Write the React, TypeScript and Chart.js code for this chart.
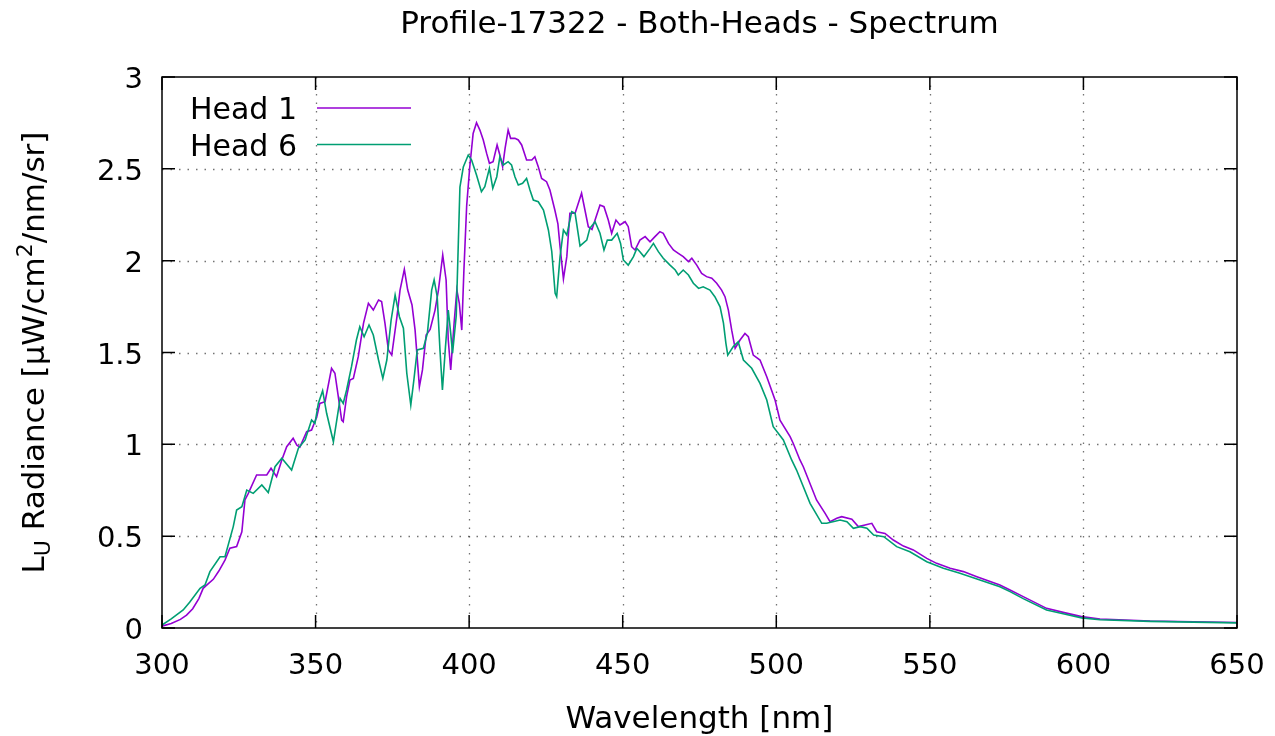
import React, { useEffect, useRef } from "react";
import { Chart, registerables } from "chart.js";

Chart.register(...registerables);

// Spectral radiance, Head 1
const head1Wavelength = [
  300, 303, 306, 308, 310, 312, 313.4, 315, 316.7, 318.5, 320.5, 322.1, 324.3, 326, 327, 328.1,
  330.8, 334.1, 335.5, 337.3, 339, 340.6, 342.7, 343.9, 344.9, 347.1, 348.7, 350.4, 351.4, 353.1,
  355.2, 356.3, 357.4, 358.5, 359, 360.1, 361.2, 362.3, 363.9, 365.6, 367.2, 368.8, 370.5, 371.5,
  372.6, 373.7, 374.8, 376.5, 377.5, 378.9, 380, 381.4, 382.4, 383.8, 384.8, 386, 387.3, 388.9,
  390, 391.4, 392.5, 393.2, 394, 395.1, 396, 396.8, 397.6, 398.3, 399.2, 400.2, 401.3, 402.4,
  403.5, 404.6, 405.7, 406.6, 407.8, 409.1, 410, 410.9, 411.7, 412.7, 413.5, 414.9, 416, 417.1,
  418.7, 420.4, 421.4, 422.5, 423.6, 425.2, 426.3, 427.9, 428.9, 429.6, 430.7, 431.8, 432.8, 434.5,
  436.6, 438.8, 440, 441, 442.6, 443.9, 445.3, 446.4, 447.8, 449.1, 450.8, 451.8, 452.9, 454,
  455.6, 457.3, 458.9, 460.5, 462.1, 463.2, 464.9, 466.5, 468.1, 469.7, 471.4, 472.5, 474.1, 475.7,
  477.3, 479, 480.6, 482.2, 483.3, 484.4, 485.5, 486.6, 488.2, 489.8, 490.9, 492.5, 494.7, 496.9,
  499.6, 501.2, 504.5, 505.5, 507.7, 508.8, 513.1, 515.9, 517.5, 519.7, 521.3, 524.6, 526.7, 528.9,
  531.1, 532.7, 535.4, 538.1, 541.4, 544.6, 549, 552.2, 556.6, 560.9, 565.3, 572.8, 576.1, 580.4,
  588, 593.4, 599.4, 605.4, 621.7, 650,
];
const head1Radiance = [
  0.01, 0.025, 0.047, 0.07, 0.105, 0.16, 0.216, 0.24, 0.265, 0.31, 0.37, 0.434, 0.443, 0.524, 0.697, 0.733,
  0.833, 0.833, 0.87, 0.824, 0.915, 0.987, 1.033, 0.996, 0.985, 1.069, 1.078, 1.15, 1.223, 1.232,
  1.414, 1.387, 1.26, 1.132, 1.123, 1.26, 1.35, 1.359, 1.477, 1.659, 1.768, 1.731, 1.786, 1.777,
  1.659, 1.514, 1.486, 1.695, 1.84, 1.953, 1.84, 1.759, 1.622, 1.314, 1.405, 1.595, 1.626, 1.731,
  1.84, 2.031, 1.895, 1.568, 1.405, 1.659, 1.84, 1.768, 1.622, 1.95, 2.3, 2.51, 2.693, 2.751,
  2.711, 2.657, 2.584, 2.53, 2.539, 2.63, 2.575, 2.512, 2.611, 2.711, 2.666, 2.666, 2.657, 2.63,
  2.548, 2.548, 2.566, 2.512, 2.448, 2.43, 2.385, 2.276, 2.2, 2.076, 1.9, 2.022, 2.258, 2.258,
  2.367, 2.185, 2.17, 2.221, 2.303, 2.294, 2.221, 2.149, 2.221, 2.194, 2.212, 2.185, 2.076, 2.058,
  2.112, 2.131, 2.103, 2.131, 2.158, 2.149, 2.094, 2.058, 2.04, 2.022, 1.995, 2.013, 1.976, 1.931,
  1.913, 1.904, 1.877, 1.84, 1.804, 1.731, 1.62, 1.523, 1.568, 1.604, 1.586, 1.486, 1.459, 1.368,
  1.241, 1.132, 1.042, 1.006, 0.915, 0.878, 0.697, 0.624, 0.579, 0.597, 0.606, 0.592, 0.552, 0.561,
  0.57, 0.524, 0.515, 0.479, 0.446, 0.425, 0.379, 0.352, 0.325, 0.307, 0.279, 0.234, 0.207, 0.171,
  0.107, 0.085, 0.062, 0.049, 0.038, 0.03,
];

// Spectral radiance, Head 6
const head6Wavelength = [
  300, 303, 306.9, 309, 312.4, 314, 315.6, 318.9, 320.5, 323.2, 324.3, 326, 327.6, 329.7, 332.5, 334.6,
  336.8, 339, 342.2, 344.4, 346.6, 348.7, 349.8, 350.9, 352.3, 353.6, 355.8, 356.9, 358, 359, 360.1,
  361.7, 363.3, 364.4, 365.8, 367.4, 368.8, 370.5, 371.9, 373.2, 374.6, 375.9, 377.3, 378.6, 379.7,
  381, 382, 383.1, 385.1, 386.4, 387.8, 388.6, 389.6, 390.5, 391.3, 392.3, 393.2, 394, 394.6, 395.8,
  396.5, 397, 398.1, 399.7, 400.8, 402.4, 404, 405.1, 406.6, 407.7, 409, 410, 411.1, 412.7, 413.8,
  414.9, 416, 417.4, 418.7, 419.8, 420.9, 422.5, 424.2, 425.8, 426.9, 428, 428.5, 429.6, 430.7, 431.8,
  433.4, 434.5, 436.1, 438.3, 439.3, 441, 442.6, 443.9, 445, 446.4, 448.2, 449.3, 450.2, 451.8, 453.5,
  454.6, 455.6, 456.9, 458.9, 460, 461.6, 463.2, 465.4, 467.1, 468.1, 469.7, 471.4, 473, 474.7, 476.2,
  478.4, 480, 481.7, 482.8, 483.6, 484.2, 486, 487.6, 489.3, 492, 494.7, 496.9, 499, 502.3, 505,
  506.6, 511, 514.8, 516.4, 520.8, 523, 525.1, 527.3, 529.5, 531.7, 535, 539.2, 543.5, 549, 554.4,
  559.8, 566.3, 572.8, 576.1, 580.4, 588, 593.4, 599.4, 605.4, 621.7, 650,
];
const head6Radiance = [
  0.016, 0.05, 0.098, 0.14, 0.216, 0.234, 0.307, 0.388, 0.388, 0.552, 0.642, 0.66, 0.751, 0.733, 0.779, 0.737,
  0.878, 0.924, 0.86, 0.978, 1.024, 1.132, 1.114, 1.223, 1.292, 1.169, 1.014, 1.132, 1.25, 1.223, 1.296,
  1.423, 1.568, 1.64, 1.586, 1.65, 1.595, 1.459, 1.359, 1.459, 1.677, 1.813, 1.695, 1.632, 1.387,
  1.214, 1.35, 1.514, 1.523, 1.604, 1.84, 1.895, 1.804, 1.514, 1.296, 1.532, 1.731, 1.604, 1.496, 1.7,
  2.11, 2.4, 2.51, 2.575, 2.548, 2.466, 2.376, 2.403, 2.503, 2.394, 2.457, 2.566, 2.521, 2.539, 2.521,
  2.457, 2.412, 2.421, 2.448, 2.385, 2.33, 2.321, 2.275, 2.167, 2.05, 1.822, 1.804, 2.022, 2.167, 2.14,
  2.267, 2.258, 2.08, 2.112, 2.176, 2.212, 2.149, 2.058, 2.112, 2.112, 2.149, 2.094, 2.004, 1.976, 2.022,
  2.067, 2.049, 2.022, 2.067, 2.094, 2.049, 2.013, 1.976, 1.949, 1.922, 1.949, 1.922, 1.877, 1.849, 1.858,
  1.84, 1.804, 1.749, 1.66, 1.55, 1.486, 1.532, 1.559, 1.459, 1.414, 1.332, 1.241, 1.096, 1.024, 0.915,
  0.86, 0.679, 0.57, 0.57, 0.588, 0.579, 0.543, 0.552, 0.543, 0.506, 0.497, 0.443, 0.415, 0.361, 0.325,
  0.298, 0.261, 0.225, 0.198, 0.16, 0.098, 0.078, 0.055, 0.045, 0.036, 0.028,
];

const seriesNames = ["Head 1", "Head 6"];
const seriesColors = ["#9400d3", "#009e73"];

const xTicks = [300, 350, 400, 450, 500, 550, 600, 650];
const yTicks = [0, 0.5, 1, 1.5, 2, 2.5, 3];

const chartTitle = "Profile-17322 - Both-Heads - Spectrum";
const xTitle = "Wavelength [nm]";

const FONT = '"DejaVu Sans", "Liberation Sans", sans-serif';

const zip = (xs: number[], ys: number[]) => xs.map((x, i) => ({ x, y: ys[i] }));

const gnuplotFrame = {
  id: "gnuplotFrame",
  beforeDatasetsDraw(chart: any) {
    const { ctx, chartArea: a, scales } = chart;
    const xs = scales.x;
    const ys = scales.y;
    ctx.save();
    ctx.strokeStyle = "rgba(0,0,0,0.55)";
    ctx.lineWidth = 1.3;
    ctx.setLineDash([1.5, 7]);
    for (const v of xTicks.slice(1, -1)) {
      const px = Math.round(xs.getPixelForValue(v)) + 0.5;
      ctx.beginPath();
      ctx.moveTo(px, a.top);
      ctx.lineTo(px, a.bottom);
      ctx.stroke();
    }
    for (const v of yTicks.slice(1, -1)) {
      const py = Math.round(ys.getPixelForValue(v)) + 0.5;
      ctx.beginPath();
      ctx.moveTo(a.left, py);
      ctx.lineTo(a.right, py);
      ctx.stroke();
    }
    ctx.restore();
  },
  afterDatasetsDraw(chart: any) {
    const { ctx, chartArea: a, scales } = chart;
    const xs = scales.x;
    const ys = scales.y;
    const tickLen = 13;
    ctx.save();
    ctx.setLineDash([]);
    ctx.strokeStyle = "#000";
    ctx.lineWidth = 1.5;
    ctx.strokeRect(a.left, a.top, a.right - a.left, a.bottom - a.top);

    // inward major ticks, mirrored on the opposite side
    ctx.beginPath();
    for (const v of xTicks) {
      const px = xs.getPixelForValue(v);
      ctx.moveTo(px, a.bottom);
      ctx.lineTo(px, a.bottom - tickLen);
      ctx.moveTo(px, a.top);
      ctx.lineTo(px, a.top + tickLen);
    }
    for (const v of yTicks) {
      const py = ys.getPixelForValue(v);
      ctx.moveTo(a.left, py);
      ctx.lineTo(a.left + tickLen, py);
      ctx.moveTo(a.right, py);
      ctx.lineTo(a.right - tickLen, py);
    }
    ctx.stroke();

    // tick labels
    ctx.fillStyle = "#000";
    ctx.font = `29px ${FONT}`;
    ctx.textBaseline = "alphabetic";
    ctx.textAlign = "center";
    for (const v of xTicks) {
      ctx.fillText(String(v), xs.getPixelForValue(v), a.bottom + 46);
    }
    ctx.textAlign = "right";
    for (const v of yTicks) {
      ctx.fillText(String(v), a.left - 19, ys.getPixelForValue(v) + 11);
    }

    // title and x-axis title
    ctx.font = `31px ${FONT}`;
    ctx.textAlign = "center";
    const cx = (a.left + a.right) / 2;
    ctx.fillText(chartTitle, cx, 33);
    ctx.fillText(xTitle, cx, 728);

    // y-axis title with subscript and superscript
    const parts = [
      { t: "L", size: 31, dy: 0 },
      { t: "U", size: 22, dy: 6 },
      { t: " Radiance [\u03bcW/cm", size: 31, dy: 0 },
      { t: "2", size: 22, dy: -12 },
      { t: "/nm/sr]", size: 31, dy: 0 },
    ];
    let total = 0;
    const widths = parts.map((p) => {
      ctx.font = `${p.size}px ${FONT}`;
      const w = ctx.measureText(p.t).width;
      total += w;
      return w;
    });
    ctx.save();
    ctx.translate(44, (a.top + a.bottom) / 2);
    ctx.rotate(-Math.PI / 2);
    ctx.textAlign = "left";
    let pos = -total / 2;
    parts.forEach((p, i) => {
      ctx.font = `${p.size}px ${FONT}`;
      ctx.fillText(p.t, pos, p.dy);
      pos += widths[i];
    });
    ctx.restore();

    // key
    ctx.font = `30px ${FONT}`;
    ctx.textAlign = "right";
    const keyRows = [
      { y: 108, base: 119 },
      { y: 144.5, base: 156 },
    ];
    keyRows.forEach((row, i) => {
      ctx.fillStyle = "#000";
      ctx.fillText(seriesNames[i], 297, row.base);
      ctx.strokeStyle = seriesColors[i];
      ctx.lineWidth = 1.6;
      ctx.beginPath();
      ctx.moveTo(317, row.y);
      ctx.lineTo(411, row.y);
      ctx.stroke();
    });
    ctx.restore();
  },
};

export default function App() {
  const canvasRef = useRef<HTMLCanvasElement | null>(null);

  useEffect(() => {
    const canvas = canvasRef.current;
    if (!canvas) return;
    const chart = new Chart(canvas, {
      type: "line",
      data: {
        datasets: [
          {
            label: seriesNames[0],
            data: zip(head1Wavelength, head1Radiance),
            borderColor: seriesColors[0],
            borderWidth: 1.6,
            pointRadius: 0,
            tension: 0,
            fill: false,
            order: 1,
          },
          {
            label: seriesNames[1],
            data: zip(head6Wavelength, head6Radiance),
            borderColor: seriesColors[1],
            borderWidth: 1.6,
            pointRadius: 0,
            tension: 0,
            fill: false,
            order: 0,
          },
        ],
      },
      options: {
        responsive: false,
        animation: false,
        events: [],
        layout: { padding: { left: 162, top: 77, right: 38, bottom: 108 } },
        plugins: {
          legend: { display: false },
          title: { display: false },
          tooltip: { enabled: false },
        },
        scales: {
          x: {
            type: "linear",
            min: xTicks[0],
            max: xTicks[xTicks.length - 1],
            grid: { display: false },
            border: { display: false },
            ticks: { display: false },
            afterFit: (s: any) => {
              s.height = 0;
            },
          },
          y: {
            type: "linear",
            min: yTicks[0],
            max: yTicks[yTicks.length - 1],
            grid: { display: false },
            border: { display: false },
            ticks: { display: false },
            afterFit: (s: any) => {
              s.width = 0;
            },
          },
        },
      },
      plugins: [gnuplotFrame],
    });
    return () => chart.destroy();
  }, []);

  return (
    <div style={{ position: "fixed", left: 0, top: 0, width: 1275, height: 736, background: "#fff" }}>
      <canvas ref={canvasRef} width={1275} height={736} />
    </div>
  );
}
